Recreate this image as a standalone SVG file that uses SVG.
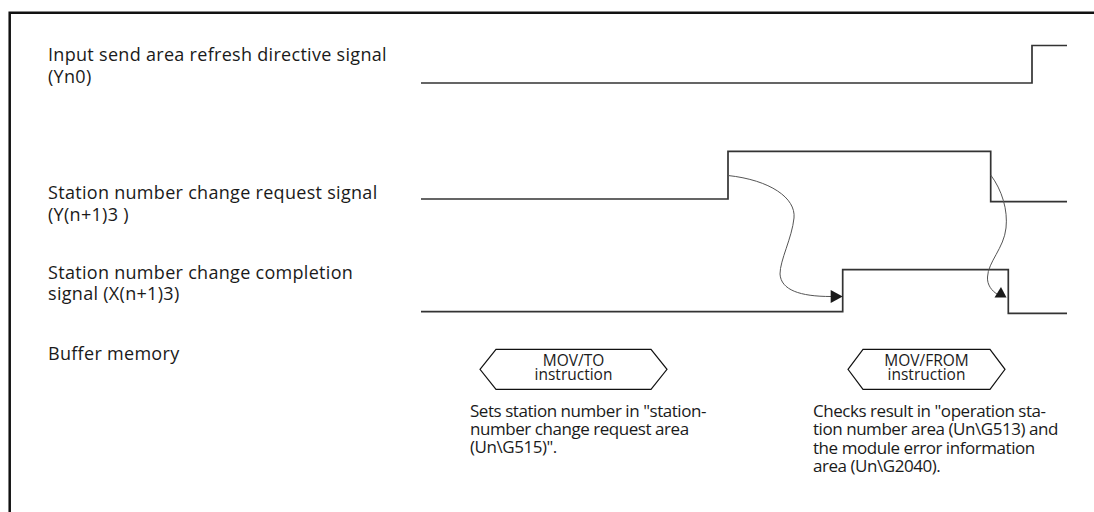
<svg xmlns="http://www.w3.org/2000/svg" width="1094" height="512" viewBox="0 0 1094 512">
<style>
text{font-family:"Open Sans","Noto Sans","Liberation Sans",sans-serif;fill:#1a1a1a}
.lbl{font-size:18px;letter-spacing:0.3px}
.desc{font-size:17px;letter-spacing:-0.45px}
.hx{font-size:15.5px;text-anchor:middle}
.sig{fill:none;stroke:#333;stroke-width:1.7}
.hex{fill:#fff;stroke:#111;stroke-width:1.2}
.cur{fill:none;stroke:#555;stroke-width:1}
.ah{fill:#1a1a1a}
</style>
<rect width="1094" height="512" fill="#fff"/>
<path d="M9.7,512 V12.8 H1094" fill="none" stroke="#111" stroke-width="2.5"/>

<g id="labels">
<text class="lbl" x="48" y="61">Input send area refresh directive signal</text>
<text class="lbl" x="48" y="83">(Yn0)</text>
<text class="lbl" x="48" y="199">Station number change request signal</text>
<text class="lbl" x="48" y="221">(Y(n+1)3 )</text>
<text class="lbl" x="48" y="278.5">Station number change completion</text>
<text class="lbl" x="48" y="300">signal (X(n+1)3)</text>
<text class="lbl" x="48" y="360">Buffer memory</text>
</g>

<g id="signal-yn0">
<path class="sig" d="M421,83 H1032 V45.5 H1067"/>
</g>
<g id="signal-request">
<path class="sig" d="M421,199 H728 V151.3 H990.7 V201.7 H1067"/>
</g>
<g id="signal-completion">
<path class="sig" d="M421,311.7 H842.7 V269.7 H1008.3 V313.3 H1067"/>
</g>

<g id="connectors">
<path class="cur" d="M728,175.5 C770,180 796,198 794,218 C792,238 780,260 780,274 C781,290 800,296.5 831,296.5"/>
<polygon class="ah" points="830.7,290 830.7,303 842.7,296.5"/>
<path class="cur" d="M990.7,175 C1002,190 1008,210 1006,228 C1004,248 988,262 987.5,277 C987,285 992,291 997,294"/>
<polygon class="ah" points="994.5,297.5 1006.5,297.5 1001,287"/>
</g>

<g id="mov-to">
<polygon class="hex" points="480,369.3 496,349.3 651,349.3 667,369.3 651,389.3 496,389.3"/>
<text class="hx" x="573.5" y="366">MOV/TO</text>
<text class="hx" x="573.5" y="380">instruction</text>
</g>
<g id="mov-from">
<polygon class="hex" points="848,369.3 863,349.3 990,349.3 1005,369.3 990,389.3 863,389.3"/>
<text class="hx" x="926.5" y="366">MOV/FROM</text>
<text class="hx" x="926.5" y="380">instruction</text>
</g>

<g id="desc-to">
<text class="desc" x="470" y="416.7">Sets station number in "station-</text>
<text class="desc" x="470" y="435">number change request area</text>
<text class="desc" x="470" y="453">(Un\G515)".</text>
</g>
<g id="desc-from">
<text class="desc" x="813" y="416.7">Checks result in "operation sta-</text>
<text class="desc" x="813" y="435">tion number area (Un\G513) and</text>
<text class="desc" x="813" y="453.5">the module error information</text>
<text class="desc" x="813" y="472">area (Un\G2040).</text>
</g>
</svg>
